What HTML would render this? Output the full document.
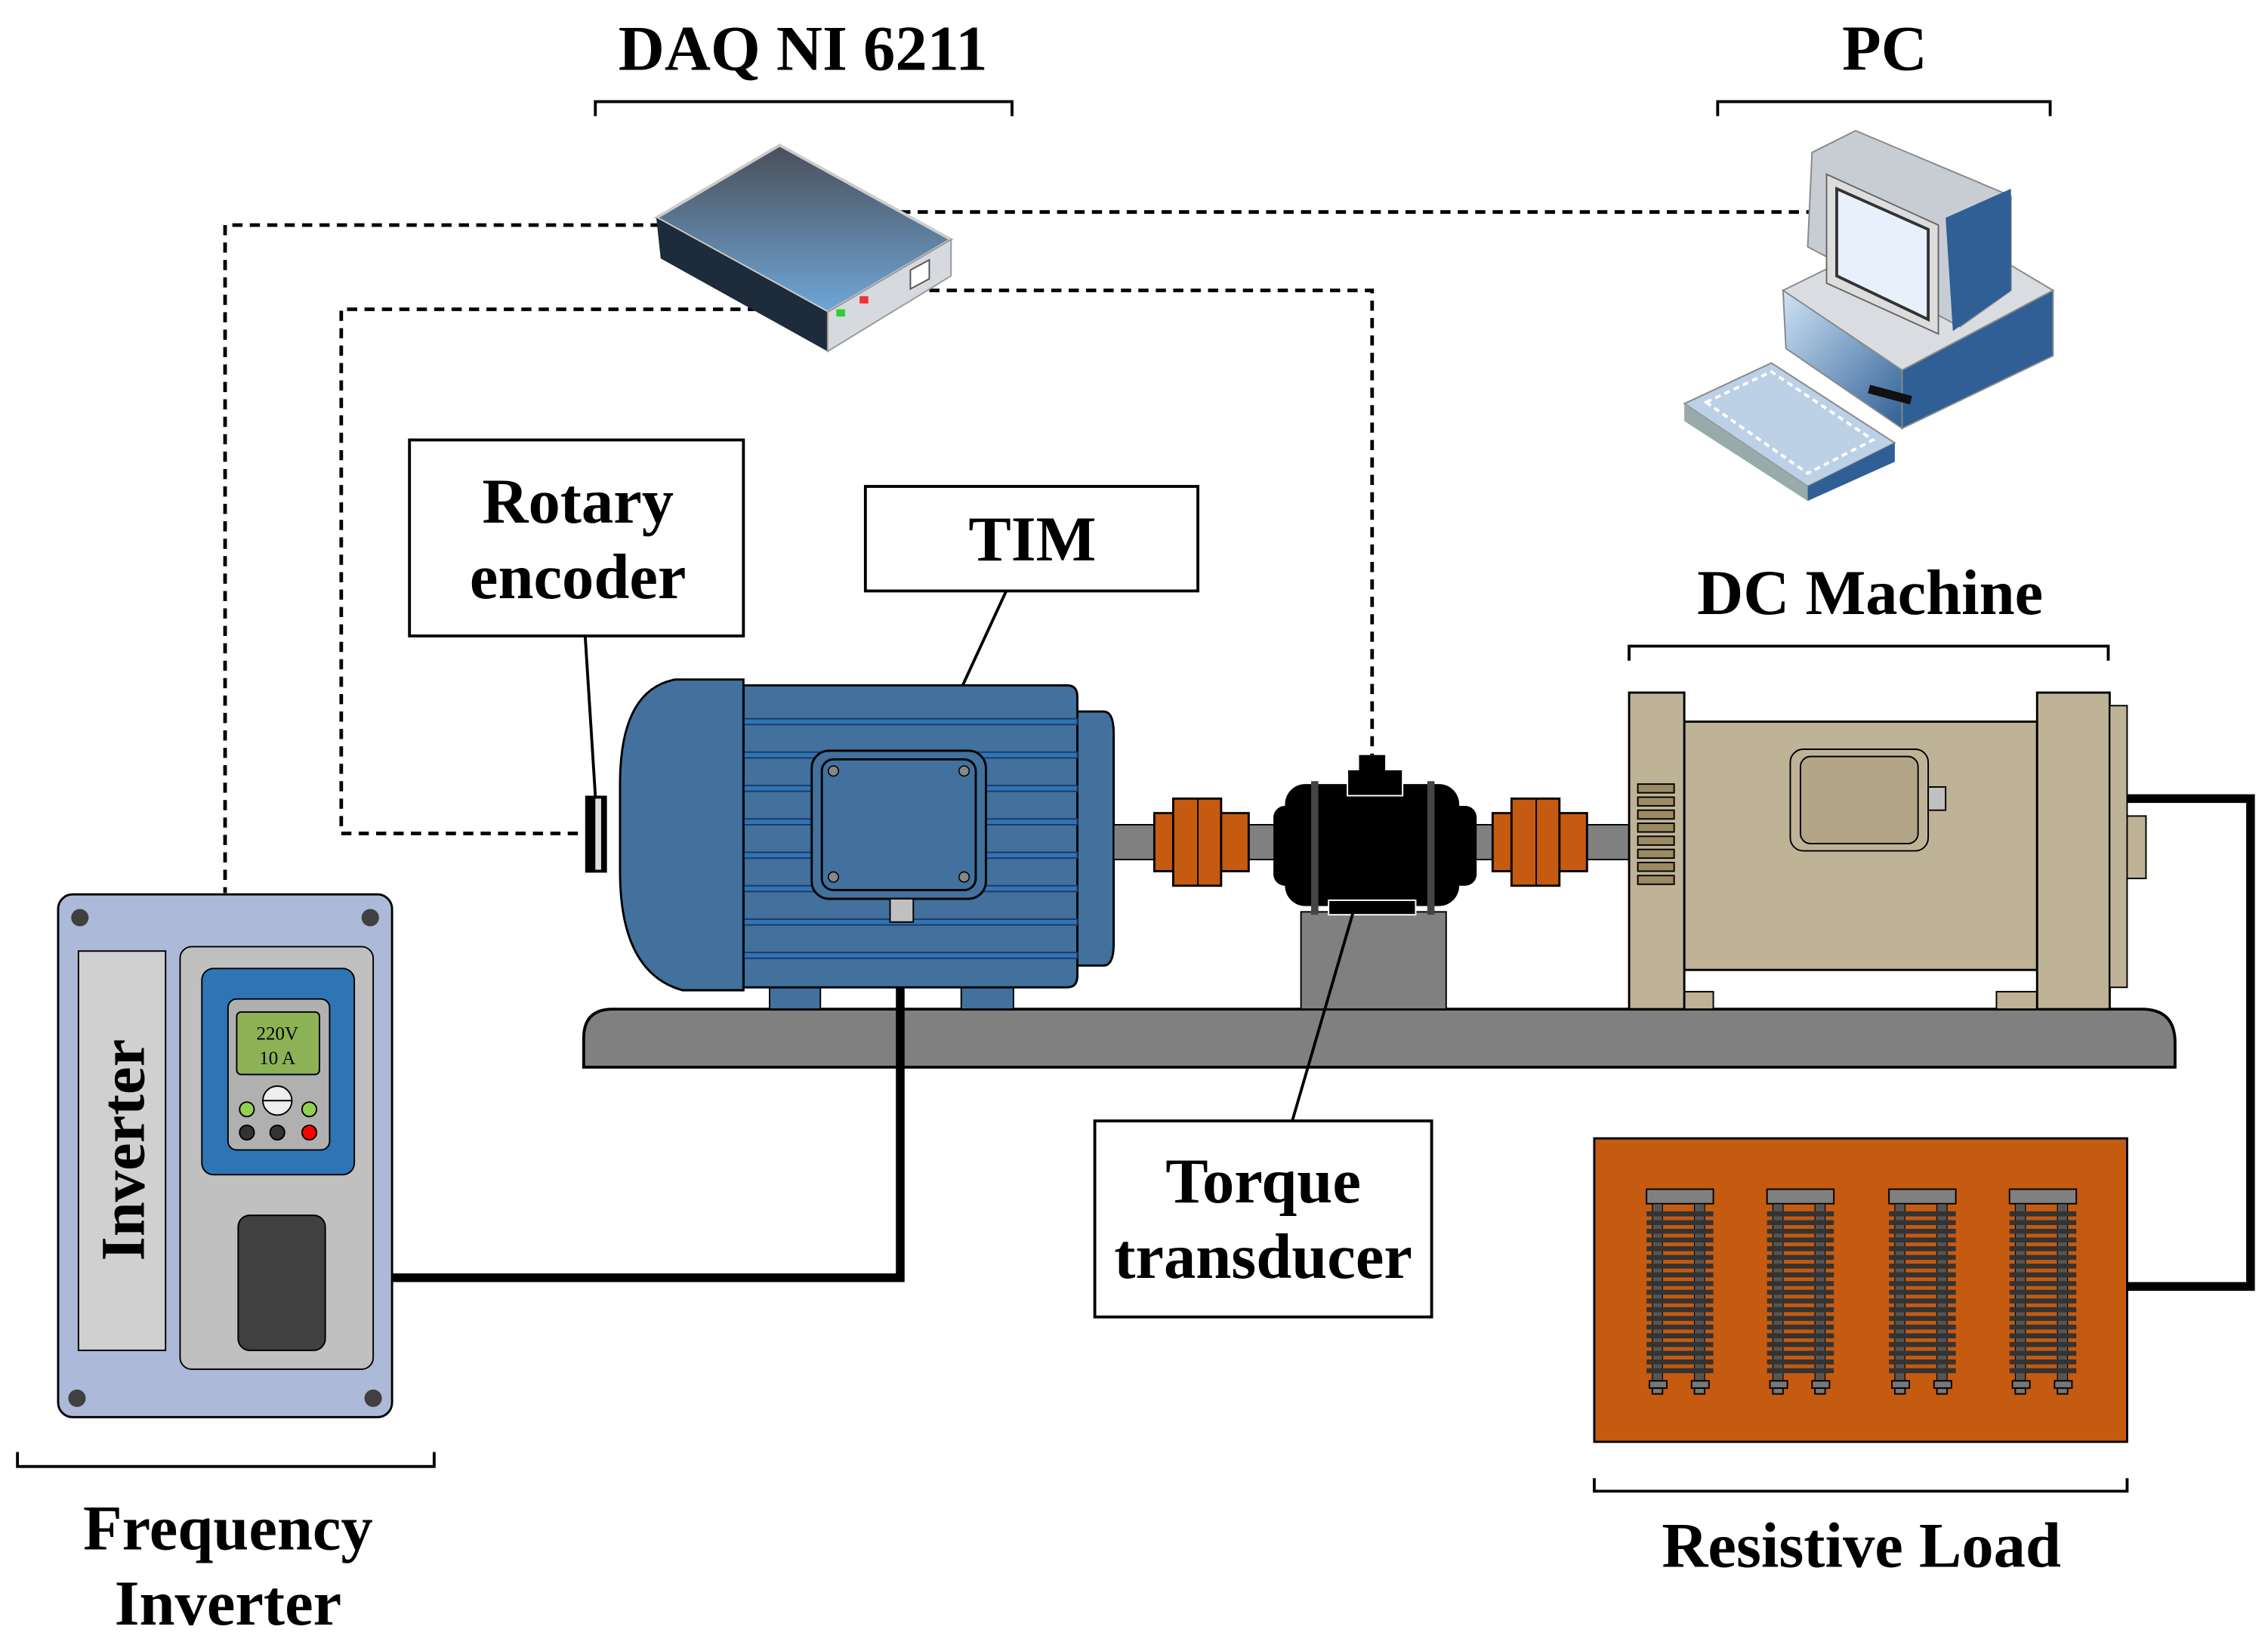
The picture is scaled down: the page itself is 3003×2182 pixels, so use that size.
<!DOCTYPE html>
<html><head><meta charset="utf-8"><style>
html,body{margin:0;padding:0;background:#fff}
svg{display:block}
text{font-family:"Liberation Serif",serif;font-weight:bold;fill:#000}
</style></head><body>
<svg width="3003" height="2182" viewBox="0 0 1562 1135" xmlns="http://www.w3.org/2000/svg">
<defs>
<linearGradient id="dq" x1="0" y1="0" x2="0" y2="1"><stop offset="0" stop-color="#4a4f58"/><stop offset="1" stop-color="#6fa6d8"/></linearGradient>
<linearGradient id="tw" x1="0" y1="0" x2="1" y2="1"><stop offset="0" stop-color="#cfe3f5"/><stop offset="1" stop-color="#2f5f95"/></linearGradient>
</defs>
<text x="553" y="48" font-size="44" text-anchor="middle">DAQ NI 6211</text>
<path d="M410 80V70H697V80" fill="none" stroke="#000" stroke-width="2"/>
<text x="1298" y="48" font-size="44" text-anchor="middle">PC</text>
<path d="M1183 80V70H1412V80" fill="none" stroke="#000" stroke-width="2"/>

<g fill="none" stroke="#000" stroke-width="2.5" stroke-dasharray="7,5">
<path d="M455 155H155V615"/>
<path d="M522 213H235V574H400"/>
<path d="M640 200H945V520"/>
<path d="M620 146H1248"/>
</g>

<polygon points="452,150 537,100 655,165 570,215" fill="url(#dq)" stroke="#ccc" stroke-width="2"/>
<polygon points="452,150 570,215 570,242 455,178" fill="#1e2b3a"/>
<polygon points="570,215 655,165 655,190 570,242" fill="#d6d9de" stroke="#999"/>
<rect x="576" y="213" width="6" height="5" fill="#3c3"/><rect x="592" y="204" width="6" height="5" fill="#e33"/>
<polygon points="627,186 640,179 640,192 627,199" fill="#fff" stroke="#555"/>

<polygon points="1228,200 1330,150 1414,200 1310,255" fill="#d9dde2" stroke="#888"/>
<polygon points="1228,200 1310,255 1310,295 1230,240" fill="url(#tw)" stroke="#888"/>
<polygon points="1310,255 1414,200 1414,245 1310,295" fill="#2f5f95" stroke="#888"/>
<polygon points="1248,105 1278,90 1385,135 1385,200 1350,225 1245,170" fill="#c8cdd4" stroke="#888"/>
<polygon points="1258,120 1335,155 1335,230 1258,195" fill="#ddd" stroke="#666"/>
<polygon points="1265,130 1328,158 1328,220 1265,190" fill="#e8f1fb" stroke="#333" stroke-width="2"/>
<polygon points="1340,150 1385,130 1385,200 1345,228" fill="#2f5f95"/>
<polygon points="1160,278 1220,250 1305,305 1245,335" fill="#bcd0e6" stroke="#888"/>
<polygon points="1160,278 1245,335 1245,345 1160,290" fill="#9aa"/>
<polygon points="1245,335 1305,305 1305,318 1245,345" fill="#2f5f95"/>
<polygon points="1175,277 1220,256 1290,303 1245,326" fill="none" stroke="#fff" stroke-width="2" stroke-dasharray="4,3"/>
<rect x="1288" y="265" width="30" height="6" fill="#111" transform="rotate(15 1288 265)"/>

<path d="M402 735V715Q402 695 422 695H1475Q1498 695 1498 718V735Z" fill="#808080" stroke="#000" stroke-width="2"/>

<path d="M1342 550H1550V886H1465" fill="none" stroke="#000" stroke-width="6"/>
<path d="M620 635V880H270" fill="none" stroke="#000" stroke-width="6"/>

<rect x="530" y="678" width="35" height="17" fill="#41719c" stroke="#000"/>
<rect x="662" y="678" width="36" height="17" fill="#41719c" stroke="#000"/>
<path d="M742 490H760Q767 490 767 505V650Q767 665 760 665H742Z" fill="#41719c" stroke="#000" stroke-width="1.5"/>
<path d="M512 472H735Q742 472 742 480V672Q742 680 735 680H512Z" fill="#41719c" stroke="#000" stroke-width="1.5"/>
<g stroke="#1f3864" stroke-width="1" fill="#2e75b6">
<rect x="512" y="495" width="230" height="4"/><rect x="512" y="518" width="230" height="4"/><rect x="512" y="541" width="230" height="4"/><rect x="512" y="564" width="230" height="4"/><rect x="512" y="587" width="230" height="4"/><rect x="512" y="610" width="230" height="4"/><rect x="512" y="633" width="230" height="4"/><rect x="512" y="656" width="230" height="4"/>
</g>
<path d="M512 468V682H470Q427 670 427 600V540Q427 475 465 468Z" fill="#41719c" stroke="#000" stroke-width="1.5"/>
<rect x="559" y="517" width="120" height="102" rx="12" fill="#41719c" stroke="#000" stroke-width="1.5"/>
<rect x="566" y="523" width="106" height="90" rx="8" fill="#41719c" stroke="#000" stroke-width="1.5"/>
<g fill="#888" stroke="#000" stroke-width=".8"><circle cx="574" cy="531" r="3.5"/><circle cx="664" cy="531" r="3.5"/><circle cx="574" cy="604" r="3.5"/><circle cx="664" cy="604" r="3.5"/></g>
<rect x="613" y="619" width="16" height="16" fill="#c0c0c0" stroke="#000"/>
<rect x="403" y="548" width="15" height="53" fill="#000"/><rect x="410" y="550" width="4" height="49" fill="#ddd"/>

<rect x="767" y="568" width="118" height="24" fill="#808080" stroke="#000"/>
<rect x="1005" y="568" width="120" height="24" fill="#808080" stroke="#000"/>
<g fill="#c55a11" stroke="#000" stroke-width="1.5">
<rect x="795" y="560" width="65" height="40"/><rect x="808" y="550" width="33" height="60"/>
<rect x="1028" y="560" width="65" height="40"/><rect x="1041" y="550" width="33" height="60"/>
</g>
<line x1="825" y1="550" x2="825" y2="610" stroke="#000"/><line x1="1058" y1="550" x2="1058" y2="610" stroke="#000"/>

<rect x="896" y="628" width="100" height="67" fill="#808080" stroke="#000"/>
<rect x="877" y="555" width="140" height="55" rx="8" fill="#000"/>
<rect x="885" y="540" width="120" height="84" rx="14" fill="#000"/>
<rect x="903" y="538" width="5" height="92" fill="#444"/><rect x="983" y="538" width="5" height="92" fill="#444"/>
<rect x="928" y="530" width="38" height="18" fill="#000" stroke="#fff"/><rect x="936" y="520" width="18" height="12" fill="#000"/>
<rect x="915" y="620" width="60" height="10" fill="#000" stroke="#fff"/>

<rect x="1160" y="683" width="20" height="12" fill="#bfb397" stroke="#000"/><rect x="1375" y="683" width="28" height="12" fill="#bfb397" stroke="#000"/>
<rect x="1160" y="497" width="243" height="171" fill="#bfb397" stroke="#000" stroke-width="1.5"/>
<rect x="1122" y="477" width="38" height="218" fill="#bfb397" stroke="#000" stroke-width="1.5"/>
<rect x="1403" y="477" width="50" height="218" fill="#bfb397" stroke="#000" stroke-width="1.5"/>
<rect x="1453" y="486" width="12" height="194" fill="#bfb397" stroke="#000"/>
<rect x="1465" y="562" width="13" height="43" fill="#bfb397" stroke="#000"/>
<g fill="#9b8a62" stroke="#000"><rect x="1128" y="540" width="25" height="6"/><rect x="1128" y="549" width="25" height="6"/><rect x="1128" y="558" width="25" height="6"/><rect x="1128" y="567" width="25" height="6"/><rect x="1128" y="576" width="25" height="6"/><rect x="1128" y="585" width="25" height="6"/><rect x="1128" y="594" width="25" height="6"/><rect x="1128" y="603" width="25" height="6"/></g>
<rect x="1233" y="516" width="95" height="70" rx="9" fill="#bfb397" stroke="#000"/>
<rect x="1240" y="521" width="81" height="60" rx="7" fill="#b3a587" stroke="#000"/>
<rect x="1328" y="542" width="12" height="16" fill="#c0c0c0" stroke="#000"/>

<rect x="1098" y="784" width="367" height="209" fill="#c55a11" stroke="#000" stroke-width="1.5"/>
<g id="res">
<rect x="1134" y="819" width="46" height="10" fill="#808080" stroke="#000"/>
<rect x="1138" y="829" width="7" height="126" fill="#555" stroke="#000" stroke-width=".6"/><rect x="1167" y="829" width="7" height="126" fill="#555" stroke="#000" stroke-width=".6"/>
<g stroke="#333" stroke-width="3.4"><path d="M1134 836H1180M1134 842H1180M1134 848H1180M1134 854H1180M1134 860H1180M1134 866H1180M1134 872H1180M1134 878H1180M1134 884H1180M1134 890H1180M1134 896H1180M1134 902H1180M1134 908H1180M1134 914H1180M1134 920H1180M1134 926H1180M1134 932H1180M1134 938H1180M1134 944H1180"/></g>
<rect x="1136" y="951" width="12" height="5" fill="#777" stroke="#000"/><rect x="1165" y="951" width="12" height="5" fill="#777" stroke="#000"/>
<rect x="1138" y="956" width="7" height="4" fill="#777" stroke="#000"/><rect x="1167" y="956" width="7" height="4" fill="#777" stroke="#000"/>
</g>
<use href="#res" x="83"/><use href="#res" x="167"/><use href="#res" x="250"/>

<rect x="40" y="616" width="230" height="360" rx="10" fill="#adb9d9" stroke="#000" stroke-width="1.5"/>
<rect x="54" y="655" width="60" height="275" fill="#d0d0d0" stroke="#000"/>
<text transform="translate(99 792) rotate(-90)" font-size="43" text-anchor="middle">Inverter</text>
<rect x="124" y="652" width="133" height="291" rx="8" fill="#c0c0c0" stroke="#000"/>
<rect x="139" y="667" width="105" height="142" rx="8" fill="#2e75b6" stroke="#000"/>
<rect x="157" y="688" width="70" height="104" rx="6" fill="#b0b0b0" stroke="#000"/>
<rect x="163" y="697" width="57" height="43" rx="3" fill="#8db255" stroke="#000"/>
<text x="191" y="716" font-size="13" text-anchor="middle" style="font-weight:normal">220V</text>
<text x="191" y="733" font-size="13" text-anchor="middle" style="font-weight:normal">10 A</text>
<circle cx="191" cy="758" r="10" fill="#eee" stroke="#000"/><line x1="181" y1="758" x2="201" y2="758" stroke="#000"/>
<circle cx="170" cy="764" r="5" fill="#92d050" stroke="#000"/><circle cx="213" cy="764" r="5" fill="#92d050" stroke="#000"/>
<circle cx="170" cy="780" r="5" fill="#333" stroke="#000"/><circle cx="191" cy="780" r="5" fill="#333" stroke="#000"/><circle cx="213" cy="780" r="5" fill="#f00" stroke="#000"/>
<rect x="164" y="837" width="60" height="93" rx="8" fill="#404040" stroke="#000"/>
<g fill="#404040"><circle cx="55" cy="632" r="6"/><circle cx="255" cy="632" r="6"/><circle cx="53" cy="963" r="6"/><circle cx="257" cy="963" r="6"/></g>

<rect x="282" y="303" width="230" height="135" fill="#fff" stroke="#000" stroke-width="2"/>
<text x="398" y="360" font-size="44" text-anchor="middle">Rotary</text>
<text x="398" y="412" font-size="44" text-anchor="middle">encoder</text>
<line x1="403" y1="438" x2="410" y2="548" stroke="#000" stroke-width="2"/>
<rect x="596" y="335" width="229" height="72" fill="#fff" stroke="#000" stroke-width="2"/>
<text x="711" y="386" font-size="44" text-anchor="middle">TIM</text>
<line x1="693" y1="407" x2="663" y2="472" stroke="#000" stroke-width="2"/>
<rect x="754" y="772" width="232" height="135" fill="#fff" stroke="#000" stroke-width="2"/>
<text x="870" y="828" font-size="44" text-anchor="middle">Torque</text>
<text x="870" y="880" font-size="44" text-anchor="middle">transducer</text>
<line x1="932" y1="628" x2="890" y2="772" stroke="#000" stroke-width="2"/>

<text x="1288" y="423" font-size="44" text-anchor="middle">DC Machine</text>
<path d="M1122 455V445H1452V455" fill="none" stroke="#000" stroke-width="2"/>
<path d="M1098 1018V1027H1465V1018" fill="none" stroke="#000" stroke-width="2"/>
<text x="1282" y="1079" font-size="44" text-anchor="middle">Resistive Load</text>
<path d="M12 1000V1010H299V1000" fill="none" stroke="#000" stroke-width="2"/>
<text x="157" y="1067" font-size="44" text-anchor="middle">Frequency</text>
<text x="157" y="1119" font-size="44" text-anchor="middle">Inverter</text>
</svg>
</body></html>
